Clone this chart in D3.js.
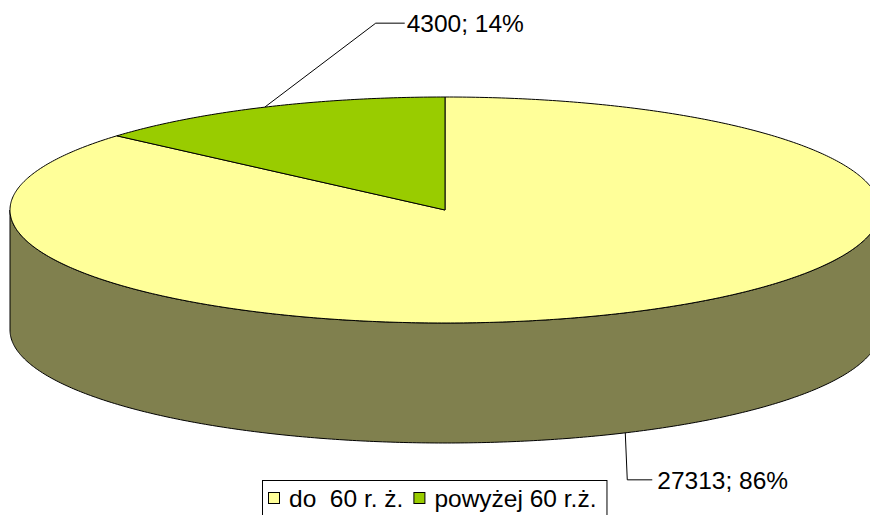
<!DOCTYPE html>
<html>
<head>
<meta charset="utf-8">
<script src="https://cdn.jsdelivr.net/npm/d3@7"></script>
<style>
  body { margin: 0; background: #fff; }
  text { font-family: "Liberation Sans", Arial, sans-serif; fill: #000; }
</style>
</head>
<body>
<svg id="chart"></svg>
<script>
const width = 870;
const height = 515;

const categories = ['do  60 r. ż.', 'powyżej 60 r.ż.'];
const values = [27313, 4300];
const labels = ['27313; 86%', '4300; 14%'];
const topColors = ['#FFFF99', '#99CC00'];
const sideColors = ['#80804E', '#4D6600'];

const cx = 445, cy = 210, rx = 435, ry = 113, depth = 120;
const fontSize = 24.5;

const svg = d3.select('#chart')
    .attr('width', width)
    .attr('height', height);

const slices = d3.pie().sort(null).value(d => d)(values);

const pt = (a, dy = 0) => [cx + rx * Math.sin(a), cy - ry * Math.cos(a) + dy];

function arcPoints(a0, a1, dy = 0) {
    const n = Math.max(2, Math.ceil(Math.abs(a1 - a0) / 0.01));
    return d3.range(n + 1).map(i => pt(a0 + (a1 - a0) * i / n, dy));
}

const line = d3.line();

// sides: only the front half (angles between PI/2 and 3PI/2) is visible
slices.forEach((s, i) => {
    const a0 = Math.max(s.startAngle, Math.PI / 2);
    const a1 = Math.min(s.endAngle, Math.PI * 3 / 2);
    if (a1 <= a0) return;
    const pts = arcPoints(a0, a1).concat(arcPoints(a1, a0, depth));
    svg.append('path')
        .attr('d', line(pts) + 'Z')
        .attr('fill', sideColors[i])
        .attr('stroke', '#000')
        .attr('stroke-width', 1);
});

// top faces
slices.forEach((s, i) => {
    const pts = [[cx, cy]].concat(arcPoints(s.startAngle, s.endAngle));
    svg.append('path')
        .attr('d', line(pts) + 'Z')
        .attr('fill', topColors[i])
        .attr('stroke', '#000')
        .attr('stroke-width', 1)
        .attr('stroke-linejoin', 'round');
});

// data labels with leader lines: [dx, dy, horizontal, text gap]
const leaderOffsets = [[2, 47, 25, 5], [111, -84, 29, 2]];
slices.forEach((s, i) => {
    const mid = (s.startAngle + s.endAngle) / 2;
    const front = Math.cos(mid) < 0;
    const anchor = pt(mid, front ? depth : 0);
    const [dx, dy, h, gap] = leaderOffsets[i];
    const elbow = [anchor[0] + dx, anchor[1] + dy];
    const end = [elbow[0] + h, elbow[1]];
    svg.append('path')
        .attr('d', line([anchor, elbow, end]))
        .attr('fill', 'none')
        .attr('stroke', '#000')
        .attr('stroke-width', 1);
    svg.append('text')
        .attr('x', end[0] + gap)
        .attr('y', end[1])
        .attr('dy', '0.36em')
        .style('font-size', fontSize + 'px')
        .text(labels[i]);
});

// legend
const legend = svg.append('g').attr('transform', 'translate(262, 480)');
const legendBox = legend.append('rect')
    .attr('x', 0.5).attr('y', 0.5)
    .attr('height', 40)
    .attr('fill', '#fff')
    .attr('stroke', '#000')
    .attr('stroke-width', 1);

let lx = 6;
let textEnd = 0;
categories.forEach((c, i) => {
    legend.append('rect')
        .attr('x', lx + 0.5).attr('y', 12.5)
        .attr('width', 11).attr('height', 11)
        .attr('fill', topColors[i])
        .attr('stroke', '#000')
        .attr('stroke-width', 1);
    const t = legend.append('text')
        .attr('x', lx + 21)
        .attr('y', 27)
        .attr('xml:space', 'preserve')
        .style('white-space', 'pre')
        .style('font-size', fontSize + 'px')
        .text(c);
    textEnd = lx + 21 + t.node().getComputedTextLength();
    lx = textEnd + 10;
});
legendBox.attr('width', textEnd + 10);
</script>
</body>
</html>
